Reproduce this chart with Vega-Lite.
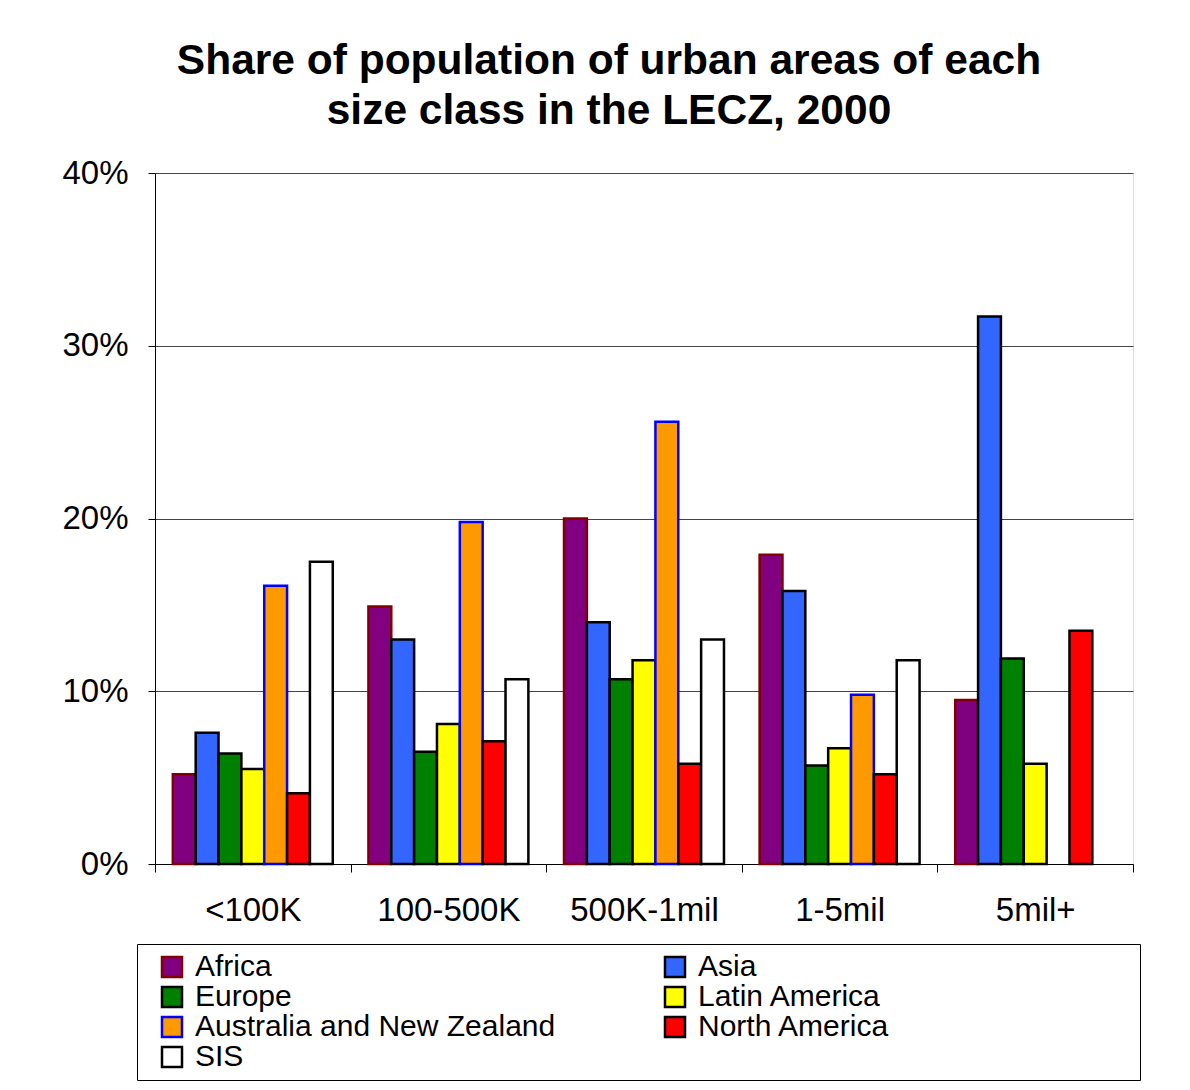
{
  "$schema": "https://vega.github.io/schema/vega-lite/v6.json",
  "width": 978,
  "height": 691,
  "autosize": {"type": "none"},
  "padding": {"left": 155, "top": 173, "right": 57, "bottom": 226},
  "background": "white",
  "title": {
    "text": ["Share of population of urban areas of each", "size class in the LECZ, 2000"],
    "font": "Liberation Sans",
    "fontSize": 42.5,
    "fontWeight": "bold",
    "lineHeight": 50,
    "anchor": "middle",
    "frame": "group",
    "dx": -35,
    "offset": 25,
    "color": "black"
  },
  "data": {
    "values": [
      {"size_class": "<100K", "region": "Africa", "share": 0.052},
      {"size_class": "<100K", "region": "Asia", "share": 0.076},
      {"size_class": "<100K", "region": "Europe", "share": 0.064},
      {"size_class": "<100K", "region": "Latin America", "share": 0.055},
      {"size_class": "<100K", "region": "Australia and New Zealand", "share": 0.161},
      {"size_class": "<100K", "region": "North America", "share": 0.041},
      {"size_class": "<100K", "region": "SIS", "share": 0.175},
      {"size_class": "100-500K", "region": "Africa", "share": 0.149},
      {"size_class": "100-500K", "region": "Asia", "share": 0.130},
      {"size_class": "100-500K", "region": "Europe", "share": 0.065},
      {"size_class": "100-500K", "region": "Latin America", "share": 0.081},
      {"size_class": "100-500K", "region": "Australia and New Zealand", "share": 0.198},
      {"size_class": "100-500K", "region": "North America", "share": 0.071},
      {"size_class": "100-500K", "region": "SIS", "share": 0.107},
      {"size_class": "500K-1mil", "region": "Africa", "share": 0.200},
      {"size_class": "500K-1mil", "region": "Asia", "share": 0.140},
      {"size_class": "500K-1mil", "region": "Europe", "share": 0.107},
      {"size_class": "500K-1mil", "region": "Latin America", "share": 0.118},
      {"size_class": "500K-1mil", "region": "Australia and New Zealand", "share": 0.256},
      {"size_class": "500K-1mil", "region": "North America", "share": 0.058},
      {"size_class": "500K-1mil", "region": "SIS", "share": 0.130},
      {"size_class": "1-5mil", "region": "Africa", "share": 0.179},
      {"size_class": "1-5mil", "region": "Asia", "share": 0.158},
      {"size_class": "1-5mil", "region": "Europe", "share": 0.057},
      {"size_class": "1-5mil", "region": "Latin America", "share": 0.067},
      {"size_class": "1-5mil", "region": "Australia and New Zealand", "share": 0.098},
      {"size_class": "1-5mil", "region": "North America", "share": 0.052},
      {"size_class": "1-5mil", "region": "SIS", "share": 0.118},
      {"size_class": "5mil+", "region": "Africa", "share": 0.095},
      {"size_class": "5mil+", "region": "Asia", "share": 0.317},
      {"size_class": "5mil+", "region": "Europe", "share": 0.119},
      {"size_class": "5mil+", "region": "Latin America", "share": 0.058},
      {"size_class": "5mil+", "region": "North America", "share": 0.135}
    ]
  },
  "mark": {"type": "bar", "strokeWidth": 2.5},
  "encoding": {
    "x": {
      "field": "size_class",
      "type": "nominal",
      "sort": ["<100K", "100-500K", "500K-1mil", "1-5mil", "5mil+"],
      "scale": {"paddingInner": 0, "paddingOuter": 0},
      "axis": {
        "title": null,
        "labelAngle": 0,
        "labelFont": "Liberation Sans",
        "labelFontSize": 33,
        "labelColor": "black",
        "labelPadding": 22,
        "tickBand": "extent",
        "tickSize": 8,
        "tickColor": "black",
        "domainColor": "black",
        "domainWidth": 1,
        "grid": false
      }
    },
    "xOffset": {
      "field": "region",
      "type": "nominal",
      "sort": ["Africa", "Asia", "Europe", "Latin America", "Australia and New Zealand", "North America", "SIS"],
      "scale": {"paddingInner": 0, "paddingOuter": 0.78}
    },
    "y": {
      "field": "share",
      "type": "quantitative",
      "scale": {"domain": [0, 0.4], "nice": false},
      "axis": {
        "title": null,
        "values": [0, 0.1, 0.2, 0.3, 0.4],
        "format": ".0%",
        "labelFont": "Liberation Sans",
        "labelFontSize": 33,
        "labelColor": "black",
        "labelPadding": 20,
        "tickSize": 7,
        "tickColor": "black",
        "domainColor": "black",
        "grid": true,
        "gridColor": "#444444",
        "gridWidth": 1
      }
    },
    "fill": {
      "field": "region",
      "type": "nominal",
      "title": " ",
      "scale": {
        "domain": ["Africa", "Asia", "Europe", "Latin America", "Australia and New Zealand", "North America", "SIS"],
        "range": ["#800080", "#3366FF", "#008000", "#FFFF00", "#FF9900", "#FF0000", "#FFFFFF"]
      },
      "legend": {
        "orient": "none",
        "legendX": -18,
        "legendY": 771,
        "direction": "horizontal",
        "columns": 2,
        "columnPadding": 92,
        "rowPadding": 0,
        "gridAlign": "all",
        "symbolType": "square",
        "symbolSize": 400,
        "symbolStrokeWidth": 2.5,
        "symbolOffset": 12,
        "labelOffset": 8,
        "labelFont": "Liberation Sans",
        "labelFontSize": 30,
        "labelColor": "black",
        "labelLimit": 600,
        "titleOrient": "right",
        "titleFontSize": 10,
        "titlePadding": 242,
        "strokeColor": "black",
        "padding": 8
      }
    },
    "stroke": {
      "field": "region",
      "type": "nominal",
      "title": " ",
      "scale": {
        "domain": ["Africa", "Asia", "Europe", "Latin America", "Australia and New Zealand", "North America", "SIS"],
        "range": ["#800000", "#000000", "#000000", "#000000", "#0000FF", "#000000", "#000000"]
      }
    }
  }
}
